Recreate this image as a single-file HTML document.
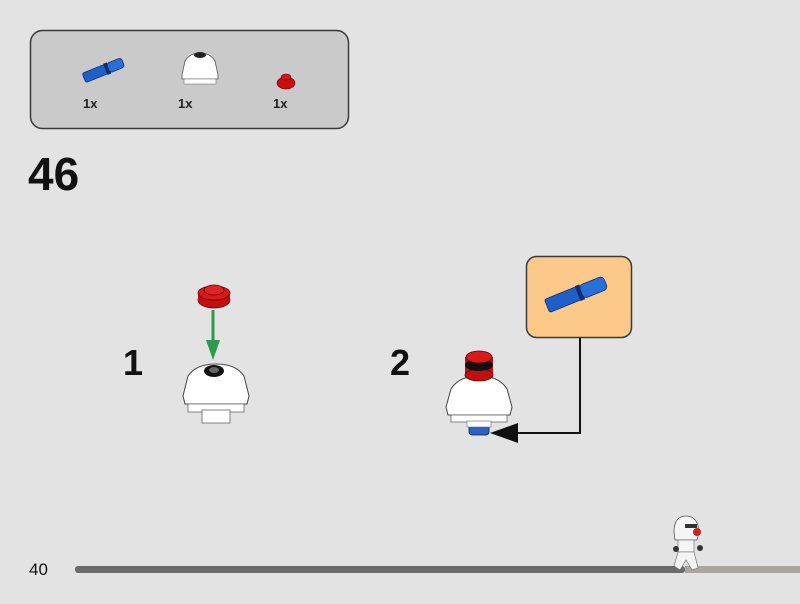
<!DOCTYPE html>
<html><head><style>
html,body{margin:0;padding:0;background:#e3e3e3;}
svg{display:block;font-family:"Liberation Sans",sans-serif;}
</style></head><body>
<svg width="800" height="604" viewBox="0 0 800 604" xmlns="http://www.w3.org/2000/svg">
<rect width="800" height="604" fill="#e3e3e3"/>
<rect x="30.5" y="30.5" width="318" height="98" rx="12" fill="#cacaca" stroke="#3a3a3a" stroke-width="1.5"/>
<g transform="translate(84,78) rotate(-22)">
<rect x="0" y="-5" width="24" height="10" rx="2" fill="#1f5fc8" stroke="#0d2f70" stroke-width="0.8"/>
<rect x="23" y="-6" width="4" height="12" fill="#0d2f70"/>
<rect x="26" y="-5" width="16" height="10" rx="3" fill="#2a6fd8" stroke="#0d2f70" stroke-width="0.8"/>
</g>
<text x="83" y="108" font-size="13" font-weight="bold" fill="#222">1x</text>
<g transform="translate(200,73)">
<path d="M-18,2 L-15,-12 Q-10,-20 0,-20 Q10,-20 15,-12 L18,2 L18,6 L-18,6 Z" fill="#fff" stroke="#555" stroke-width="0.8"/>
<rect x="-16" y="6" width="32" height="5" fill="#fff" stroke="#777" stroke-width="0.6"/>
<ellipse cx="0" cy="-18" rx="6" ry="3" fill="#222"/>
</g>
<text x="178" y="108" font-size="13" font-weight="bold" fill="#222">1x</text>
<ellipse cx="286" cy="83" rx="9" ry="6" fill="#c80e10" stroke="#700" stroke-width="0.6"/>
<ellipse cx="286" cy="77" rx="5" ry="3" fill="#d91515" stroke="#700" stroke-width="0.6"/>
<text x="273" y="108" font-size="13" font-weight="bold" fill="#222">1x</text>
<text x="28" y="190" font-size="46" font-weight="bold" fill="#111">46</text>
<text x="123" y="375" font-size="36" font-weight="bold" fill="#111">1</text>
<g transform="translate(214,293)">
<ellipse cx="0" cy="7" rx="16" ry="8" fill="#c40f12" stroke="#600" stroke-width="0.8"/>
<rect x="-16" y="0" width="32" height="7" fill="#c40f12"/>
<ellipse cx="0" cy="0" rx="16" ry="7" fill="#d81a1c" stroke="#600" stroke-width="0.8"/>
<ellipse cx="0" cy="-3" rx="10" ry="5" fill="#e02325" stroke="#600" stroke-width="0.8"/>
</g>
<line x1="213" y1="310" x2="213" y2="345" stroke="#2e9a4e" stroke-width="3"/>
<polygon points="206,340 220,340 213,360" fill="#2e9a4e"/>
<g transform="translate(216,380)">
<path d="M-33,16 L-28,-4 Q-20,-16 0,-16 Q20,-16 28,-4 L33,16 L31,24 L-31,24 Z" fill="#fff" stroke="#444" stroke-width="1"/>
<rect x="-28" y="24" width="56" height="8" fill="#fff" stroke="#666" stroke-width="0.8"/>
<rect x="-14" y="30" width="28" height="13" fill="#fff" stroke="#666" stroke-width="0.8"/>
<ellipse cx="-2" cy="-9" rx="10" ry="6" fill="#111"/>
<ellipse cx="-2" cy="-10" rx="5" ry="3" fill="#666"/>
</g>
<text x="390" y="375" font-size="36" font-weight="bold" fill="#111">2</text>
<rect x="526.5" y="256.5" width="105" height="81" rx="10" fill="#fcc98a" stroke="#3a3a3a" stroke-width="1.5"/>
<g transform="translate(547,306) rotate(-22)">
<rect x="0" y="-7" width="34" height="14" rx="2" fill="#1f5fc8" stroke="#0d2f70" stroke-width="0.8"/>
<rect x="33" y="-8" width="5" height="16" fill="#0d2f70"/>
<rect x="37" y="-7" width="26" height="14" rx="4" fill="#2a6fd8" stroke="#0d2f70" stroke-width="0.8"/>
</g>
<polyline points="580,338 580,433 505,433" fill="none" stroke="#111" stroke-width="2"/>
<polygon points="490,433 518,423 518,443" fill="#111"/>
<g transform="translate(479,395)">
<rect x="-10" y="24" width="20" height="16" rx="3" fill="#2a63c5" stroke="#123" stroke-width="0.8"/>
<path d="M-33,12 L-28,-6 Q-20,-19 0,-19 Q20,-19 28,-6 L33,12 L31,20 L-31,20 Z" fill="#fff" stroke="#444" stroke-width="1"/>
<rect x="-28" y="20" width="56" height="7" fill="#fff" stroke="#666" stroke-width="0.8"/>
<rect x="-12" y="26" width="24" height="6" fill="#fff" stroke="#666" stroke-width="0.6"/>
<rect x="-14" y="-38" width="28" height="18" fill="#c40f12"/>
<ellipse cx="0" cy="-20" rx="14" ry="6" fill="#c40f12" stroke="#600" stroke-width="0.8"/>
<ellipse cx="0" cy="-30" rx="14" ry="6" fill="#111"/>
<ellipse cx="0" cy="-38" rx="13" ry="6" fill="#d81a1c" stroke="#600" stroke-width="0.8"/>
</g>
<text x="29" y="575" font-size="17" fill="#111">40</text>
<rect x="75" y="566" width="610" height="7" rx="3" fill="#6b6b6b"/>
<rect x="685" y="566" width="115" height="7" fill="#aaa7a2"/>
<g transform="translate(686,540)">
<path d="M-12,-8 Q-12,-24 0,-24 Q12,-24 13,-8 L11,0 L-11,0 Z" fill="#f5f5f5" stroke="#555" stroke-width="0.8"/>
<rect x="-1" y="-16" width="12" height="4" fill="#333"/>
<circle cx="11" cy="-8" r="4" fill="#d02020"/>
<rect x="-8" y="0" width="16" height="12" fill="#f5f5f5" stroke="#666" stroke-width="0.6"/>
<circle cx="-10" cy="9" r="3" fill="#333"/>
<circle cx="14" cy="8" r="3" fill="#333"/>
<path d="M-8,12 L8,12 L12,28 L6,30 L0,20 L-6,30 L-12,26 Z" fill="#f5f5f5" stroke="#666" stroke-width="0.6"/>
</g>
</svg>
</body></html>
